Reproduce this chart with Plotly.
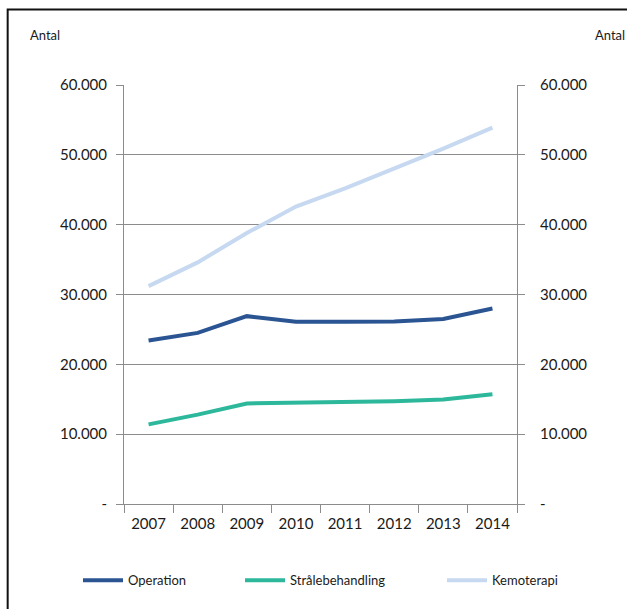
import plotly.graph_objects as go

years = ["2007", "2008", "2009", "2010", "2011", "2012", "2013", "2014"]
operation = [23400, 24500, 26900, 26100, 26100, 26150, 26500, 28000]
stralebehandling = [11400, 12800, 14400, 14500, 14700, 14700, 14950, 15700]
kemoterapi = [31200, 34600, 38800, 42600, 45200, 48000, 50900, 53900]

tick_vals = [0, 10000, 20000, 30000, 40000, 50000, 60000]
tick_text = ["-", "10.000", "20.000", "30.000", "40.000", "50.000", "60.000"]

series = [
    ("Operation", operation, "#2A5592", "legend"),
    ("Strålebehandling", stralebehandling, "#2DB89C", "legend2"),
    ("Kemoterapi", kemoterapi, "#C6D9F1", "legend3"),
]

FONT = "Lato, 'Open Sans', sans-serif"
GRID = "#8C8C8C"

fig = go.Figure()
for name, vals, color, leg in series:
    fig.add_trace(go.Scatter(
        x=years, y=vals, name=name, mode="lines",
        line=dict(color=color, width=4), legend=leg,
    ))

# invisible trace that carries the mirrored right-hand axis
fig.add_trace(go.Scatter(x=years, y=operation, yaxis="y2", showlegend=False,
                         hoverinfo="skip", line=dict(width=0), opacity=0))

axis_common = dict(
    range=[0, 60000], tickvals=tick_vals, ticktext=tick_text,
    ticks="outside", ticklen=7, tickcolor=GRID, tickwidth=1,
    showline=True, linecolor=GRID, linewidth=1,
    tickfont=dict(family=FONT, size=15, color="#1a1a1a"),
    zeroline=False, fixedrange=True,
)


def legend_at(xpx):
    return dict(orientation="h", xref="container", yref="container",
                x=xpx / 627, xanchor="left", y=0.047, yanchor="middle",
                font=dict(family=FONT, size=13, color="#1a1a1a"),
                itemwidth=40, bgcolor="rgba(0,0,0,0)")


fig.update_layout(
    width=627, height=609,
    margin=dict(l=124, r=110, t=85, b=105, autoexpand=False),
    paper_bgcolor="white", plot_bgcolor="white",
    showlegend=True,
    legend=legend_at(78),
    legend2=legend_at(240),
    legend3=legend_at(442),
    xaxis=dict(
        type="category", tickson="boundaries", ticks="outside", ticklen=8,
        tickcolor=GRID, showline=True, linecolor=GRID, linewidth=1,
        showgrid=False, tickfont=dict(family=FONT, size=15, color="#1a1a1a"),
        ticklabelstandoff=6, range=[-0.5, 7.5], fixedrange=True,
    ),
    yaxis=dict(side="left", showgrid=True, gridcolor=GRID, gridwidth=1,
               ticklabelstandoff=6, **axis_common),
    yaxis2=dict(side="right", overlaying="y", showgrid=False,
                ticklabelstandoff=12, **axis_common),
    annotations=[
        dict(text="Antal", xref="paper", yref="paper", x=-0.245, y=1.12,
             xanchor="left", yanchor="middle", showarrow=False,
             font=dict(family=FONT, size=13, color="#1a1a1a")),
        dict(text="Antal", xref="paper", yref="paper", x=1.28, y=1.12,
             xanchor="right", yanchor="middle", showarrow=False,
             font=dict(family=FONT, size=13, color="#1a1a1a")),
    ],
    shapes=[
        dict(type="rect", xref="paper", yref="paper",
             x0=-0.296, x1=1.33, y0=-0.30, y1=1.18,
             line=dict(color="#111111", width=2), fillcolor="rgba(0,0,0,0)"),
    ],
)

fig.write_html("out.html")
